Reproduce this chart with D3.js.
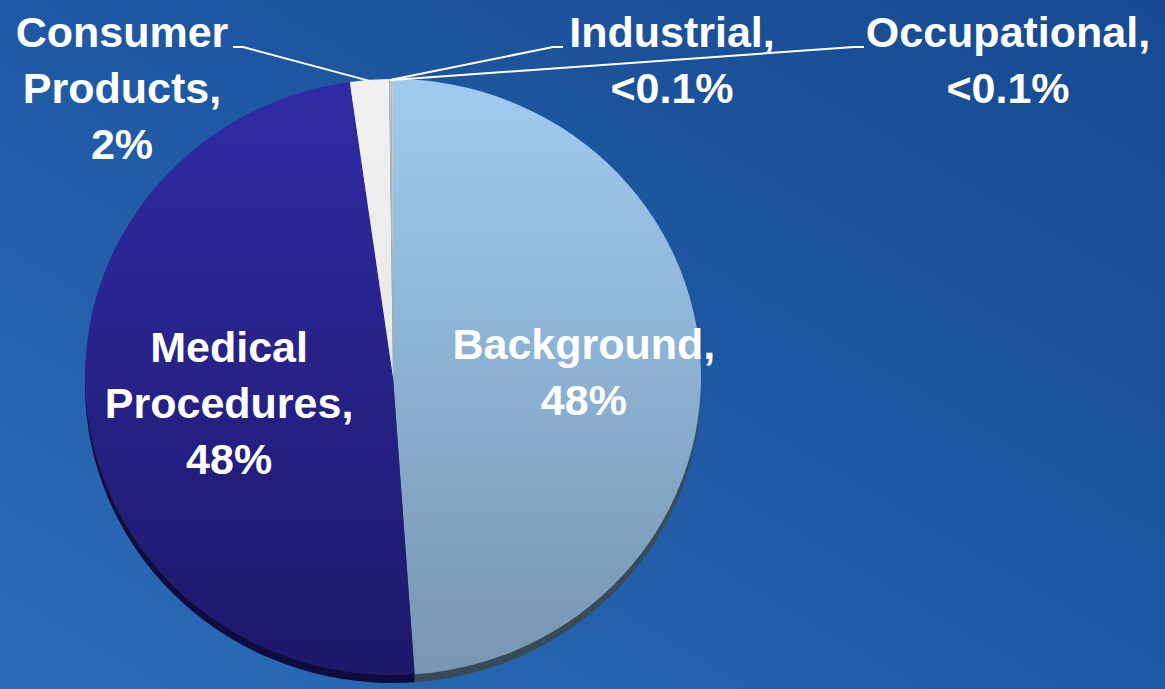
<!DOCTYPE html>
<html>
<head>
<meta charset="utf-8">
<script src="https://cdn.jsdelivr.net/npm/d3@7"></script>
<style>
    body { margin: 0; overflow: hidden; }
    svg { display: block; }
    text { font-family: "Liberation Sans", Arial, sans-serif; font-weight: bold; fill: #ffffff; }
</style>
</head>
<body>
<svg id="base" width="1165" height="689"></svg>
<script>
// data

const categories = ["Background", "Medical Procedures", "Consumer Products", "Industrial", "Occupational"];
const values = [48, 48, 2, 0.1, 0.1];
const valueLabels = ["48%", "48%", "2%", "<0.1%", "<0.1%"];

const width = 1165;
const height = 689;

const svg = d3.select("#base");
const defs = svg.append("defs");

// background

const bgGrad = defs.append("linearGradient")
    .attr("id", "bg")
    .attr("x1", "1").attr("y1", "0")
    .attr("x2", "0").attr("y2", "1");
bgGrad.append("stop").attr("offset", "0%").attr("stop-color", "#174a92");
bgGrad.append("stop").attr("offset", "45%").attr("stop-color", "#1e57a1");
bgGrad.append("stop").attr("offset", "100%").attr("stop-color", "#2d6db8");

svg.append("rect")
    .attr("width", width)
    .attr("height", height)
    .attr("fill", "url(#bg)");

// slice gradients (top to bottom)

const gradients = [
    ["#9fcaf0", "#7897b2"],
    ["#2f2ba3", "#1d196b"],
    ["#f0f0f0", "#e2e2e2"],
    ["#bdbdbd", "#a9a9a9"],
    ["#c9c9c9", "#b0b0b0"],
];

gradients.forEach((g, i) => {
    const lg = defs.append("linearGradient")
        .attr("id", "slice" + i)
        .attr("gradientUnits", "userSpaceOnUse")
        .attr("x1", 0).attr("y1", -300)
        .attr("x2", 0).attr("y2", 300);
    lg.append("stop").attr("offset", "0%").attr("stop-color", g[0]);
    lg.append("stop").attr("offset", "100%").attr("stop-color", g[1]);
});

const sideColors = ["#364a58", "#0e0c3e", "#8a8a8a", "#777", "#777"];

// pie

const cx = 393;
const cy = 377;
const rx = 308;
const ry = 298;
const depth = 8;

const pie = d3.pie().sort(null).value((d) => d);
const arcs = pie(values);

const arc = d3.arc().innerRadius(0).outerRadius(rx);

const side = svg.append("g")
    .attr("transform", `translate(${cx},${cy + depth}) scale(1,${ry / rx})`);

side.selectAll("path")
    .data(arcs)
    .enter()
    .append("path")
    .attr("d", arc)
    .attr("fill", (d, i) => sideColors[i]);

const face = svg.append("g")
    .attr("transform", `translate(${cx},${cy}) scale(1,${ry / rx})`);

face.selectAll("path")
    .data(arcs)
    .enter()
    .append("path")
    .attr("d", arc)
    .attr("fill", (d, i) => `url(#slice${i})`);

// helper to go from pie space to screen

function toScreen(p) {
    return [cx + p[0], cy + p[1] * (ry / rx)];
}

// inside labels

const lineH = 56;
const insideLabels = [
    { i: 0, lines: ["Background,", valueLabels[0]], r: 0.62, dx: 0, dy: 2 },
    { i: 1, lines: ["Medical", "Procedures,", valueLabels[1]], r: 0.62, dx: 26, dy: 7 },
];

insideLabels.forEach((lab) => {
    const c = d3.arc().innerRadius(rx * lab.r).outerRadius(rx * lab.r).centroid(arcs[lab.i]);
    const p = toScreen(c);
    const t = svg.append("text")
        .attr("text-anchor", "middle")
        .style("font-size", "43px");
    const n = lab.lines.length;
    lab.lines.forEach((s, k) => {
        t.append("tspan")
            .attr("x", p[0] + lab.dx)
            .attr("y", p[1] + lab.dy + (k - (n - 1) / 2) * lineH + 15)
            .text(s);
    });
});

// outside labels with leader lines

const outsideLabels = [
    { i: 2, lines: ["Consumer", "Products,", valueLabels[2]], x: 122, y: 47, side: "left", end: 233 },
    { i: 3, lines: ["Industrial,", valueLabels[3]], x: 672, y: 47, side: "right", end: 563 },
    { i: 4, lines: ["Occupational,", valueLabels[4]], x: 1008, y: 47, side: "right", end: 864 },
];

outsideLabels.forEach((lab) => {
    const a = arcs[lab.i];
    const mid = (a.startAngle + a.endAngle) / 2;
    const start = toScreen([Math.sin(mid) * rx, -Math.cos(mid) * rx]);
    const knee = lab.side === "left" ? lab.end + 10 : lab.end - 10;

    svg.append("polyline")
        .attr("points", [[start[0], start[1] + 1], [knee, lab.y], [lab.end, lab.y]].map((p) => p.join(",")).join(" "))
        .attr("fill", "none")
        .attr("stroke", "#ffffff")
        .attr("stroke-width", 2);

    const t = svg.append("text")
        .attr("text-anchor", "middle")
        .style("font-size", "43px");
    lab.lines.forEach((s, k) => {
        t.append("tspan")
            .attr("x", lab.x)
            .attr("y", 47 + k * lineH)
            .text(s);
    });
});
</script>
</body>
</html>
